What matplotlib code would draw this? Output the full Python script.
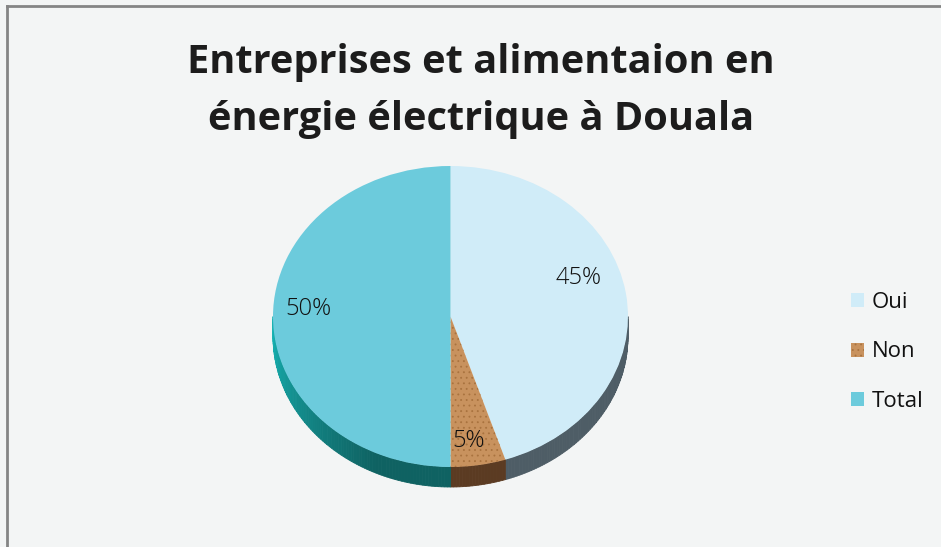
import numpy as np
import matplotlib
matplotlib.use("Agg")
from matplotlib import pyplot as plt
from matplotlib.lines import Line2D
from matplotlib.colors import to_rgb

# chart data
categories = ['Oui', 'Non', 'Total']
values = [45, 5, 50]
pct_labels = ['45%', '5%', '50%']
title_lines = ['Entreprises et alimentaion en', 'énergie électrique à Douala']

top_colors = ['#d0ecf8', '#c8925e', '#6ccbdc']
# wall colours: (colour at lower-left end, colour at bottom end)
side_colors = [('#4e5d66', '#4e5d66'), ('#5b3b22', '#5b3b22'), ('#16b2b2', '#0f6262')]

plt.rcParams['hatch.linewidth'] = 0.6

W, H = 941, 547
fig = plt.figure(figsize=(W / 100, H / 100), dpi=100)
fig.patch.set_facecolor('#f3f5f5')

# frame at top and left
fig.add_artist(Line2D([7 / W, 1], [1 - 6 / H, 1 - 6 / H], color='#858585', lw=2))
fig.add_artist(Line2D([7 / W, 7 / W], [0, 1 - 6 / H], color='#858585', lw=2))

# title
for i, line in enumerate(title_lines):
    fig.text(481 / W, 1 - (73 + 57 * i) / H, line, ha='center', va='baseline',
             fontsize=28.6, fontweight='bold', family=['Open Sans', 'DejaVu Sans'],
             color='#1c1c1c')

# pie top face box (pixels): x 273..628, y 166..467
ax = fig.add_axes([273 / W, 1 - 467 / H, 355 / W, 301 / H])

depth = 20 / 150.5

# side walls (visible on the lower half)
start = 90.0
for v, (c_left, c_bot) in zip(values, side_colors):
    a0 = start
    a1 = start - v * 3.6
    start = a1
    lo, hi = max(a1, -180), min(a0, 0)
    if lo >= hi:
        continue
    n = max(int(hi - lo), 2)
    edges = np.linspace(hi, lo, n + 1)
    for k in range(n):
        t = np.radians(np.linspace(edges[k], edges[k + 1], 4))
        x = np.cos(t)
        y = np.sin(t)
        px = np.concatenate([x, x[::-1]])
        py = np.concatenate([y, y[::-1] - depth])
        mid = 0.5 * (edges[k] + edges[k + 1])
        # 0 at the bottom (-90), 1 at the far left (-180); darkest part near the bottom
        f = np.clip((-mid - 115) / 65, 0, 1) if mid < -90 else 0.0
        col = tuple(f * np.array(to_rgb(c_left)) + (1 - f) * np.array(to_rgb(c_bot)))
        ax.fill(px, py, color=col, lw=0.6, ec=col, clip_on=False)

wedges, _ = ax.pie(values, colors=top_colors, startangle=90, counterclock=False,
                   radius=1, center=(0, 0), frame=True,
                   wedgeprops=dict(linewidth=0))
ax.set_xlim(-1, 1)
ax.set_ylim(-1, 1)
ax.set_aspect('auto')
ax.axis('off')
for w in wedges:
    w.set_clip_on(False)

# cork-like texture on the "Non" slice
wedges[1].set_hatch('...')
wedges[1].set_edgecolor('#a9733f')

label_pos = [(0.72, 0.256), (0.099, -0.83), (-0.80, 0.05)]
for txt, (lx, ly) in zip(pct_labels, label_pos):
    ax.text(lx, ly, txt, ha='center', va='center', fontsize=17,
            family=['Open Sans', 'DejaVu Sans'], fontweight='light', color='#111111')

leg = fig.legend(wedges, categories, loc='upper left',
                 bbox_to_anchor=(851 / W, 1 - 292 / H), frameon=False,
                 prop={'family': ['Open Sans', 'DejaVu Sans'], 'size': 16},
                 handlelength=0.6, handleheight=0.6, handletextpad=0.35,
                 labelspacing=1.28, borderpad=0, borderaxespad=0)
for t in leg.get_texts():
    t.set_color('#111111')

fig.savefig('out.png', dpi=100, facecolor=fig.get_facecolor())
